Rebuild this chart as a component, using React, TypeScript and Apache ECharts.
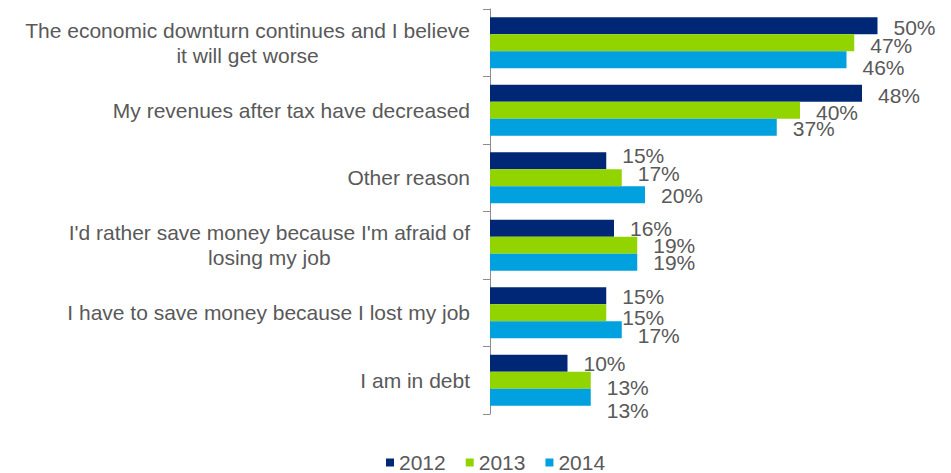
import React, { useEffect, useRef } from "react";
import * as echarts from "echarts";

const categories = [
  "The economic downturn continues and I believe\nit will get worse",
  "My revenues after tax have decreased",
  "Other reason",
  "I'd rather save money because I'm afraid of\nlosing my job",
  "I have to save money because I lost my job",
  "I am in debt",
];
const seriesNames = ["2012", "2013", "2014"];
const values2012 = [50, 48, 15, 16, 15, 10];
const values2013 = [47, 40, 17, 19, 15, 13];
const values2014 = [46, 37, 20, 19, 17, 13];

// label vertical nudges (styling only, px)
const nudge2012 = [2, 2, -5, 0, 1, 0];
const nudge2013 = [3, 2, -4, 0, 5, 7];
const nudge2014 = [8, 1, 1, 0, 6, 13];

const colors = ["#002776", "#92D400", "#00A1DE"];
const textColor = "#595959";
const FONT = "'Liberation Sans', Arial, sans-serif";
const FS = 21;

export default function App() {
  const ref = useRef<HTMLDivElement>(null);
  useEffect(() => {
    if (!ref.current) return;
    const chart = echarts.init(ref.current, null, { renderer: "svg" });
    const vals = [values2012, values2013, values2014];
    const nudges = [nudge2012, nudge2013, nudge2014];
    chart.setOption({
      animation: false,
      textStyle: { fontFamily: FONT },
      grid: { left: 482, top: 1, width: 387.5, height: 405, containLabel: false },
      legend: {
        data: seriesNames,
        top: 439,
        left: 373,
        icon: "rect",
        itemWidth: 8,
        itemHeight: 8,
        itemGap: 20,
        textStyle: { color: textColor, fontSize: FS, fontFamily: FONT },
      },
      xAxis: {
        type: "value",
        min: 0,
        max: 50,
        show: false,
      },
      yAxis: {
        type: "category",
        data: categories,
        inverse: true,
        axisLine: { show: true, lineStyle: { color: "#8C8C8C", width: 1 } },
        axisTick: { show: true, length: 7, lineStyle: { color: "#8C8C8C" } },
        axisLabel: {
          margin: 20,
          color: textColor,
          fontSize: FS,
          fontFamily: FONT,
          formatter: (v: string) =>
            v
              .split("\n")
              .map((l) => "{c|" + l + "}")
              .join("\n"),
          rich: {
            c: {
              align: "center",
              color: textColor,
              fontSize: FS,
              fontFamily: FONT,
              lineHeight: 25,
            },
          },
        },
        splitLine: { show: false },
      },
      series: seriesNames.map((name, si) => ({
        name,
        type: "bar",
        barGap: "0%",
        barCategoryGap: "24.4%",
        itemStyle: { color: colors[si] },
        label: {
          show: true,
          position: "right",
          distance: 16,
          color: textColor,
          fontSize: FS,
          fontFamily: FONT,
          formatter: (p: any) => p.value + "%",
        },
        data: vals[si].map((v, i) => ({
          value: v,
          label: { offset: [0, nudges[si][i]] },
        })),
      })),
    });
    return () => chart.dispose();
  }, []);
  return <div ref={ref} style={{ width: 943, height: 465 }} />;
}
